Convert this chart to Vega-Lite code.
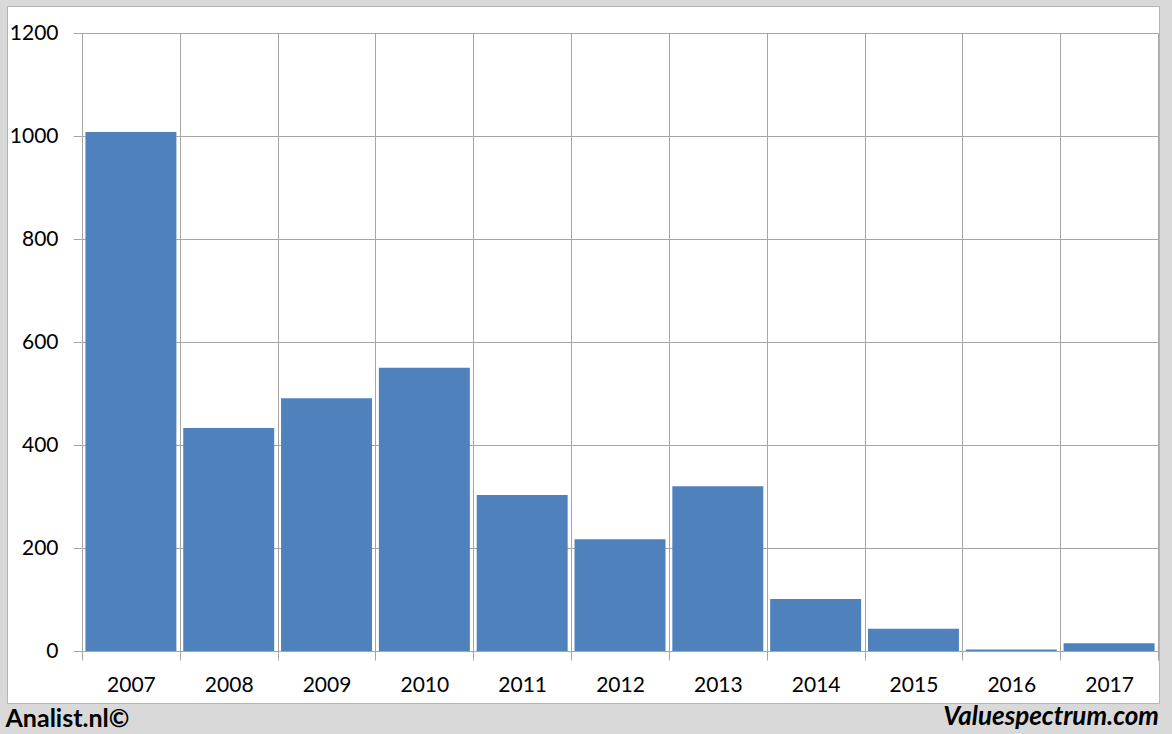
{
  "$schema": "https://vega.github.io/schema/vega-lite/v6.json",
  "width": 1152,
  "height": 697,
  "autosize": {"type": "none"},
  "padding": {"left": 7, "top": 6, "right": 13, "bottom": 31},
  "background": "#d9d9d9",
  "view": {"fill": "white", "stroke": "#b4b4b4", "strokeWidth": 1},
  "title": {
    "text": "Valuespectrum.com",
    "orient": "bottom",
    "anchor": "end",
    "font": "Lato",
    "fontSize": 26,
    "fontWeight": "bold",
    "fontStyle": "italic",
    "color": "black",
    "offset": -27
  },
  "data": {
    "values": [
      {"year": "2007", "value": 1008},
      {"year": "2008", "value": 433},
      {"year": "2009", "value": 491},
      {"year": "2010", "value": 550},
      {"year": "2011", "value": 303},
      {"year": "2012", "value": 217},
      {"year": "2013", "value": 320},
      {"year": "2014", "value": 101},
      {"year": "2015", "value": 43},
      {"year": "2016", "value": 3},
      {"year": "2017", "value": 15}
    ]
  },
  "resolve": {"scale": {"x": "shared", "y": "shared"}, "axis": {"x": "independent"}},
  "layer": [
    {
      "mark": {"type": "bar", "opacity": 0, "width": {"band": 0.93}},
      "encoding": {
        "x": {
          "field": "year",
          "type": "nominal",
          "sort": null,
          "scale": {"type": "band", "range": [75, 1151], "paddingInner": 0, "paddingOuter": 0},
          "axis": {
            "orient": "top",
            "grid": true,
            "gridColor": "#a6a6a6",
            "gridWidth": 1,
            "tickBand": "extent",
            "ticks": false,
            "labels": false,
            "domain": false,
            "title": null
          }
        },
        "y": {
          "field": "value",
          "type": "quantitative",
          "scale": {"domain": [0, 1200], "range": [645, 27], "nice": false},
          "axis": {
            "orient": "left",
            "offset": -75,
            "values": [0, 200, 400, 600, 800, 1000, 1200],
            "format": "d",
            "grid": true,
            "gridColor": "#a6a6a6",
            "gridWidth": 1,
            "domain": false,
            "ticks": true,
            "tickSize": 9,
            "tickColor": "#a6a6a6",
            "labelFont": "Lato",
            "labelFontSize": 21,
            "labelColor": "black",
            "labelPadding": 15,
            "title": null
          }
        }
      }
    },
    {
      "mark": {"type": "bar", "color": "#4f81bd", "width": {"band": 0.93}},
      "encoding": {
        "x": {
          "field": "year",
          "type": "nominal",
          "sort": null,
          "axis": {
            "orient": "bottom",
            "offset": -52,
            "grid": false,
            "tickBand": "extent",
            "ticks": true,
            "tickSize": 9,
            "tickColor": "#a6a6a6",
            "domain": true,
            "domainColor": "#a6a6a6",
            "labelAngle": 0,
            "labelFont": "Lato",
            "labelFontSize": 21,
            "labelColor": "black",
            "labelPadding": 14,
            "title": "Analist.nl©",
            "titleFont": "Lato",
            "titleFontSize": 25,
            "titleFontWeight": "bold",
            "titleColor": "black",
            "titleAlign": "left",
            "titleBaseline": "alphabetic",
            "titleX": -2,
            "titleY": 75
          }
        },
        "y": {
          "field": "value",
          "type": "quantitative"
        }
      }
    }
  ]
}
